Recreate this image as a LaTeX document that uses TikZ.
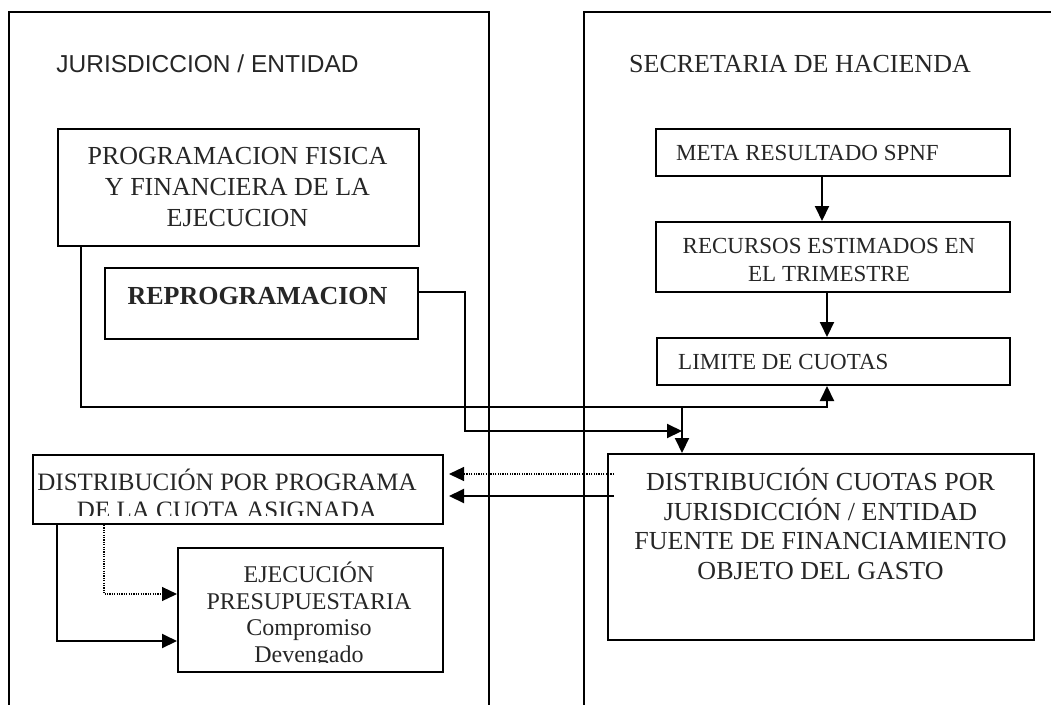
\documentclass[tikz,border=0pt]{standalone}
\usepackage{fontspec}
\setmainfont{Liberation Serif}
\newfontfamily\hdrsans{Liberation Sans}
\usetikzlibrary{arrows.meta,calc}
\begin{document}
\begin{tikzpicture}[x=1pt,y=-1pt,
  panel/.style={line width=2pt},
  box/.style={draw, line width=2pt, rectangle, inner sep=0pt, anchor=north west},
  txt/.style={inner sep=0pt, align=center, text=black!85},
  conn/.style={line width=2pt},
  arr/.style={line width=2pt, -{Triangle[length=15pt,width=14pt]}},
  dotarr/.style={line width=1.2pt, dash pattern=on 1.2pt off 1.2pt, -{Triangle[length=15pt,width=14pt]}}]
\useasboundingbox (0,0) rectangle (1051,704);
% panels
\draw[panel] (9,712) -- (9,12) -- (489,12) -- (489,712);
\draw[panel] (584,712) -- (584,12) -- (1060,12);
% headers
\node[txt, font=\hdrsans\fontsize{24.5}{29}\selectfont] (hleft) at (207.5,64) {JURISDICCION / ENTIDAD};
\node[txt, font=\fontsize{26}{31}\selectfont] (hright) at (800,64) {SECRETARIA DE HACIENDA};
% boxes
\node[box, minimum width=361pt, minimum height=117pt] (prog) at (57,128) {};
\node[box, minimum width=313pt, minimum height=71pt] (reprog) at (104,267) {};
\node[box, minimum width=410pt, minimum height=69pt] (dprog) at (32,454) {};
\node[box, minimum width=265pt, minimum height=124pt] (ejec) at (177,547) {};
\node[box, minimum width=354pt, minimum height=47pt] (meta) at (655,128) {};
\node[box, minimum width=354pt, minimum height=70pt] (recursos) at (655,221) {};
\node[box, minimum width=353pt, minimum height=47pt] (limite) at (656,337) {};
\node[box, minimum width=426pt, minimum height=186pt] (dcuotas) at (607,453) {};
% texts
\node[txt, font=\fontsize{26}{31}\selectfont] (progt) at (237.5,187) {PROGRAMACION FISICA\\Y FINANCIERA DE LA\\EJECUCION};
\node[txt, font=\fontsize{26}{31}\selectfont\bfseries] (reprogt) at (257.5,296) {REPROGRAMACION};
\node[txt, anchor=west, font=\fontsize{23}{27}\selectfont] (metat) at (676,153) {META RESULTADO SPNF};
\begin{scope}
\clip (655,221) rectangle (1009,282);
\node[txt, font=\fontsize{23}{28}\selectfont] (recursost) at (829,259.5) {RECURSOS ESTIMADOS EN\\EL TRIMESTRE};
\end{scope}
\node[txt, anchor=west, font=\fontsize{23}{27}\selectfont] (limitet) at (678,361.5) {LIMITE DE CUOTAS};
\node[txt, font=\fontsize{26}{29.8}\selectfont] (dcuotast) at (820.5,524) {DISTRIBUCIÓN CUOTAS POR\\JURISDICCIÓN / ENTIDAD\\FUENTE DE FINANCIAMIENTO\\OBJETO DEL GASTO};
\begin{scope}
\clip (32,454) rectangle (442,515);
\node[txt, font=\fontsize{25}{28}\selectfont] (dprogt) at (227,494) {DISTRIBUCIÓN POR PROGRAMA\\DE LA CUOTA ASIGNADA};
\end{scope}
\begin{scope}
\clip (177,547) rectangle (442,662);
\node[txt, font=\fontsize{24}{26.5}\selectfont] (eject) at (309,615) {EJECUCIÓN\\PRESUPUESTARIA\\Compromiso\\Devengado};
\end{scope}
% connectors
\coordinate (j1) at (682,407);
\coordinate (r1) at (465,431);
\draw[conn] ([xshift=24pt]prog.south west) |- (j1);
\draw[arr] (j1) -| ([xshift=-6.5pt]limite.south);
\draw[arr] (j1) -- (j1 |- dcuotas.north);
\draw[arr] ([yshift=11.5pt]reprog.east) -| (r1) -- (r1 -| j1);
\draw[arr] ([xshift=-11pt]meta.south) -- ([xshift=-11pt]recursos.north);
\draw[arr] ([xshift=-6pt]recursos.south) -- ([xshift=-6.5pt]limite.north);
\draw[dotarr] ([xshift=7pt,yshift=73pt]dcuotas.west) -- ([xshift=5pt,yshift=15.5pt]dprog.east);
\draw[arr] ([xshift=7pt,yshift=51pt]dcuotas.west) -- ([xshift=5pt,yshift=-6.5pt]dprog.east);
\draw[arr] ([xshift=25pt]dprog.south west) |- ([yshift=-31pt]ejec.west);
\draw[dotarr] ([xshift=72pt]dprog.south west) |- ([yshift=16pt]ejec.west);
\end{tikzpicture}
\end{document}
